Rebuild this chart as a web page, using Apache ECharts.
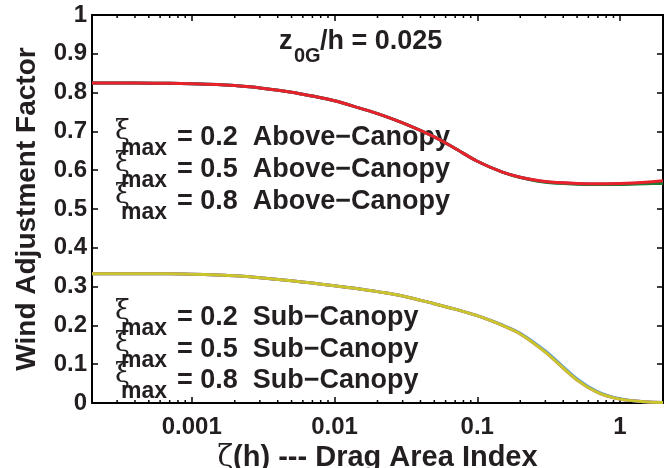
<!DOCTYPE html>
<html>
<head>
<meta charset="utf-8">
<script src="https://cdn.jsdelivr.net/npm/echarts@6/dist/echarts.min.js"></script>
<style>
  html, body { margin: 0; padding: 0; background: #fff; }
  #chart { width: 671px; height: 468px; }
</style>
</head>
<body>
<div id="chart"></div>
<script>
// Drag area index (log scale) sampled along each curve
const zeta = [0.0002, 0.0004, 0.0007, 0.001, 0.0015, 0.002, 0.003, 0.005, 0.007, 0.01, 0.015, 0.02,
              0.03, 0.05, 0.07, 0.1, 0.15, 0.2, 0.3, 0.5, 0.7, 1, 1.5, 2];

// Wind adjustment factor, above-canopy, for xi_max = 0.2 / 0.5 / 0.8
const above02 = [0.825, 0.825, 0.824, 0.823, 0.821, 0.818, 0.812, 0.801, 0.791, 0.779, 0.760, 0.746,
                 0.722, 0.686, 0.656, 0.623, 0.595, 0.582, 0.570, 0.565, 0.564, 0.565, 0.567, 0.570];
const above05 = [0.825, 0.825, 0.824, 0.823, 0.821, 0.818, 0.812, 0.801, 0.791, 0.779, 0.760, 0.746,
                 0.722, 0.686, 0.656, 0.623, 0.595, 0.581, 0.569, 0.564, 0.563, 0.563, 0.565, 0.566];
const above08 = [0.825, 0.825, 0.824, 0.823, 0.821, 0.818, 0.812, 0.801, 0.791, 0.779, 0.760, 0.746,
                 0.722, 0.686, 0.656, 0.623, 0.595, 0.582, 0.571, 0.566, 0.565, 0.566, 0.569, 0.573];

// Wind adjustment factor, sub-canopy, for xi_max = 0.2 / 0.5 / 0.8
const sub02 = [0.333, 0.333, 0.333, 0.332, 0.330, 0.328, 0.323, 0.315, 0.309, 0.302, 0.294, 0.287,
               0.276, 0.256, 0.242, 0.225, 0.201, 0.180, 0.134, 0.062, 0.029, 0.011, 0.003, 0.001];
const sub05 = [0.333, 0.333, 0.333, 0.332, 0.330, 0.328, 0.323, 0.315, 0.309, 0.302, 0.294, 0.287,
               0.276, 0.256, 0.242, 0.225, 0.200, 0.178, 0.131, 0.059, 0.027, 0.010, 0.003, 0.001];
const sub08 = [0.333, 0.333, 0.333, 0.332, 0.330, 0.328, 0.323, 0.315, 0.309, 0.302, 0.294, 0.287,
               0.276, 0.256, 0.242, 0.225, 0.200, 0.178, 0.131, 0.059, 0.027, 0.010, 0.003, 0.001];

// Axis tick labels
const xTickValues = [0.001, 0.01, 0.1, 1];
const xTickLabels = ['0.001', '0.01', '0.1', '1'];
const yTickValues = [0, 0.1, 0.2, 0.3, 0.4, 0.5, 0.6, 0.7, 0.8, 0.9, 1];
const yTickLabels = ['0', '0.1', '0.2', '0.3', '0.4', '0.5', '0.6', '0.7', '0.8', '0.9', '1'];

// Legend entries written inside the axes
const aboveLabels = ['= 0.2  Above\u2212Canopy', '= 0.5  Above\u2212Canopy', '= 0.8  Above\u2212Canopy'];
const subLabels = ['= 0.2  Sub\u2212Canopy', '= 0.5  Sub\u2212Canopy', '= 0.8  Sub\u2212Canopy'];

// Log-axis minor tick positions (2..9 x 10^k) inside the x range
const minorTickValues = [];
[-4, -3, -2, -1, 0].forEach(function (k) {
  for (let m = 2; m <= 9; m++) {
    const v = m * Math.pow(10, k);
    if (v > 0.0002 * 1.001 && v < 2 * 0.999) minorTickValues.push(+v.toPrecision(6));
  }
});

const TXT = '#231f20';
const FONT = '"Liberation Sans", Arial, sans-serif';

function pairs(ys) { return zeta.map(function (x, i) { return [x, ys[i]]; }); }

function xLabel(v) {
  for (let i = 0; i < xTickValues.length; i++) {
    if (Math.abs(v / xTickValues[i] - 1) < 1e-6) return xTickLabels[i];
  }
  return '';
}
function yLabel(v) {
  for (let i = 0; i < yTickValues.length; i++) {
    if (Math.abs(v - yTickValues[i]) < 1e-6) return yTickLabels[i];
  }
  return '';
}

function curve(name, ys, color) {
  return {
    name: name, type: 'line', data: pairs(ys), smooth: 0.3, showSymbol: false,
    lineStyle: { color: color, width: 3 }, silent: true, clip: true
  };
}

const axisLineStyle = { color: '#000', width: 2 };
const tickStyle = { color: '#000', width: 1.5 };

const textGraphics = [];
function addLegendRow(cy, text) {
  textGraphics.push({
    type: 'text', x: 115, y: cy - 4,
    style: { text: '\u03be', font: 'normal 27px "DejaVu Serif", serif', fill: TXT, verticalAlign: 'middle' }
  });
  textGraphics.push({
    type: 'text', x: 121, y: cy + 13,
    style: { text: 'max', font: 'bold 23px ' + FONT, fill: TXT, verticalAlign: 'middle' }
  });
  textGraphics.push({
    type: 'text', x: 177, y: cy + 2,
    style: { text: text, font: 'bold 27px ' + FONT, fill: TXT, verticalAlign: 'middle' }
  });
}
const aboveRows = [136, 168, 200];
const subRows = [316, 348, 379];
aboveLabels.forEach(function (t, i) { addLegendRow(aboveRows[i], t); });
subLabels.forEach(function (t, i) { addLegendRow(subRows[i], t); });

// Plot title: z_0G / h = 0.025
textGraphics.push({
  type: 'text', x: 279, y: 42,
  style: { text: 'z', font: 'bold 27px ' + FONT, fill: TXT, verticalAlign: 'middle' }
});
textGraphics.push({
  type: 'text', x: 294, y: 56,
  style: { text: '0G', font: 'bold 20px ' + FONT, fill: TXT, verticalAlign: 'middle' }
});
textGraphics.push({
  type: 'text', x: 320, y: 42,
  style: { text: '/h = 0.025', font: 'bold 27px ' + FONT, fill: TXT, verticalAlign: 'middle' }
});

const chart = echarts.init(document.getElementById('chart'), null, { renderer: 'canvas' });
chart.setOption({
  animation: false,
  backgroundColor: '#fff',
  grid: { left: 92, right: 8, top: 15, bottom: 65, containLabel: false, outerBoundsMode: 'none' },
  xAxis: [
    {
      type: 'log', logBase: 10, min: 0.0002, max: 2, position: 'bottom',
      axisLine: { show: true, onZero: false, lineStyle: axisLineStyle },
      axisTick: { show: true, inside: true, length: 6, lineStyle: tickStyle },
      axisLabel: {
        show: true, margin: 12, showMinLabel: false, showMaxLabel: false,
        formatter: xLabel, color: TXT, fontSize: 24, fontWeight: 'bold', fontFamily: FONT
      },
      splitLine: { show: false },
      name: '{g|\u03b6}(h) --- Drag Area Index', nameLocation: 'middle', nameGap: 34,
      nameTextStyle: {
        color: TXT, fontSize: 29, fontWeight: 'bold', fontFamily: FONT,
        rich: { g: { fontFamily: '"DejaVu Serif", serif', fontWeight: 'normal', fontSize: 29, color: TXT } }
      }
    },
    {
      type: 'log', logBase: 10, min: 0.0002, max: 2, position: 'top',
      axisLine: { show: true, onZero: false, lineStyle: axisLineStyle },
      axisTick: { show: true, inside: true, length: 6, lineStyle: tickStyle },
      axisLabel: { show: false }, splitLine: { show: false }
    }
  ],
  yAxis: [
    {
      type: 'value', min: 0, max: 1, interval: 0.1, position: 'left',
      axisLine: { show: true, onZero: false, lineStyle: axisLineStyle },
      axisTick: { show: true, inside: true, length: 6, lineStyle: tickStyle },
      axisLabel: {
        show: true, margin: 5, formatter: yLabel,
        color: TXT, fontSize: 24, fontWeight: 'bold', fontFamily: FONT
      },
      splitLine: { show: false },
      name: 'Wind Adjustment Factor', nameLocation: 'middle', nameGap: 51,
      nameTextStyle: { color: TXT, fontSize: 28, fontWeight: 'bold', fontFamily: FONT }
    },
    {
      type: 'value', min: 0, max: 1, interval: 0.1, position: 'right',
      axisLine: { show: true, onZero: false, lineStyle: axisLineStyle },
      axisTick: { show: true, inside: true, length: 6, lineStyle: tickStyle },
      axisLabel: { show: false }, splitLine: { show: false }
    }
  ],
  series: [
    curve('above 0.2', above02, '#2b4fb8'),
    curve('above 0.5', above05, '#1f7a36'),
    curve('above 0.8', above08, '#e8212b'),
    curve('sub 0.2', sub02, '#4fa6dc'),
    curve('sub 0.5', sub05, '#b03ab0'),
    curve('sub 0.8', sub08, '#c9c62c'),
    {
      name: 'minor ticks', type: 'custom', xAxisIndex: 0, yAxisIndex: 0, silent: true, z: 5,
      data: minorTickValues.map(function (v) { return [v, 0]; }),
      renderItem: function (params, api) {
        const b = api.coord([api.value(0), 0]);
        const t = api.coord([api.value(0), 1]);
        const st = { stroke: '#000', lineWidth: 1.5 };
        return {
          type: 'group', children: [
            { type: 'line', shape: { x1: b[0], y1: b[1], x2: b[0], y2: b[1] - 3 }, style: st },
            { type: 'line', shape: { x1: t[0], y1: t[1], x2: t[0], y2: t[1] + 3 }, style: st }
          ]
        };
      }
    }
  ],
  graphic: textGraphics
});
</script>
</body>
</html>
